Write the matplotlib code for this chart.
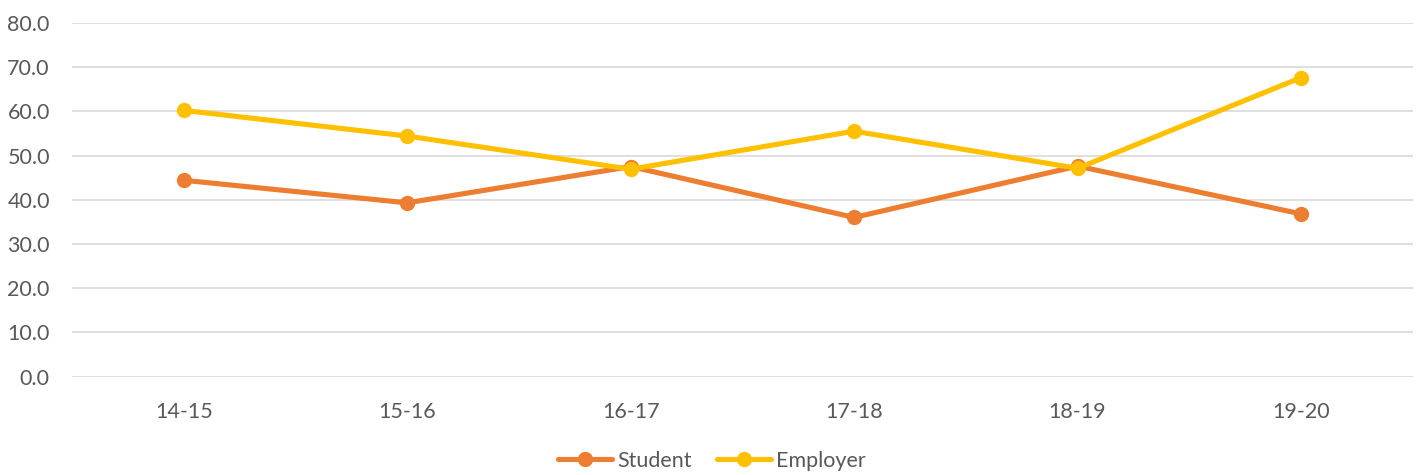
import matplotlib
matplotlib.use("Agg")
import matplotlib.pyplot as plt
from matplotlib.ticker import FormatStrFormatter

categories = ["14-15", "15-16", "16-17", "17-18", "18-19", "19-20"]
student = [44.4, 39.3, 47.5, 36.0, 47.6, 36.8]
employer = [60.2, 54.4, 46.9, 55.5, 47.1, 67.6]

plt.rcParams['font.family'] = ['Lato', 'DejaVu Sans']
fig = plt.figure(figsize=(14.24, 4.75), dpi=100)
ax = fig.add_axes([0.0506, 0.207, 0.9415, 0.745])
x = list(range(len(categories)))
ax.plot(x, student, color='#ED7D31', lw=3.7, marker='o', ms=10, label='Student', solid_capstyle='round')
ax.plot(x, employer, color='#FFC000', lw=3.7, marker='o', ms=10, label='Employer', solid_capstyle='round')
ax.set_xlim(-0.5, len(categories) - 0.5)
ax.set_ylim(0, 80)
ax.set_yticks(range(0, 81, 10))
ax.yaxis.set_major_formatter(FormatStrFormatter('%.1f'))
ax.set_xticks(x)
ax.set_xticklabels(categories)
ax.grid(axis='y', color='#D9D9D9', lw=1.2)
ax.set_axisbelow(True)
for s in ax.spines.values():
    s.set_visible(False)
ax.tick_params(length=0, labelsize=15.5, colors='#595959')
ax.tick_params(axis='x', pad=18)
ax.tick_params(axis='y', pad=16)
leg = fig.legend(loc='center', bbox_to_anchor=(0.5, 0.03), ncol=2, frameon=False,
                 fontsize=15.5, handlelength=2.5, columnspacing=1.2, handletextpad=0.25)
for t in leg.get_texts():
    t.set_color('#595959')
fig.savefig('out.png')
